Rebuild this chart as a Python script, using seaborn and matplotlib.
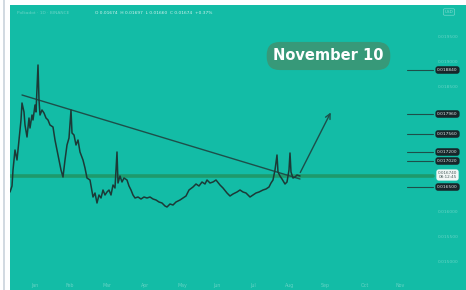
import pandas as pd
import matplotlib.pyplot as plt
import seaborn as sns

# Price history (day index, close price)
days = [10, 12, 13, 15, 17, 19, 21, 22, 24, 25,
        27, 29, 30, 32, 33, 35, 36, 38, 39, 40,
        42, 44, 46, 48, 50, 53, 55, 57, 59, 61,
        63, 65, 67, 69, 71, 72, 74, 76, 78, 80,
        83, 85, 87, 90, 93, 95, 97, 99, 101, 103,
        105, 107, 109, 111, 113, 115, 117, 118, 120, 122,
        124, 127, 129, 131, 133, 135, 138, 141, 144, 147,
        150, 153, 156, 159, 162, 165, 167, 170, 173, 176,
        180, 183, 186, 189, 193, 196, 199, 202, 205, 207,
        210, 213, 216, 220, 223, 227, 230, 233, 237, 240,
        243, 246, 250, 253, 256, 259, 263, 266, 269, 271,
        273, 275, 277, 278, 280, 282, 285, 287, 289, 290,
        291, 293, 295, 297, 300]
prices = [0.01640, 0.01652, 0.01684, 0.01724, 0.01704, 0.01744, 0.01784, 0.01818, 0.01800, 0.01774,
          0.01750, 0.01788, 0.01768, 0.01794, 0.01784, 0.01814, 0.01800, 0.01894, 0.01824, 0.01794,
          0.01804, 0.01798, 0.01788, 0.01784, 0.01774, 0.01770, 0.01744, 0.01724, 0.01704, 0.01684,
          0.01670, 0.01704, 0.01734, 0.01748, 0.01804, 0.01758, 0.01754, 0.01734, 0.01744, 0.01720,
          0.01704, 0.01688, 0.01668, 0.01664, 0.01630, 0.01638, 0.01618, 0.01634, 0.01628, 0.01644,
          0.01634, 0.01640, 0.01644, 0.01634, 0.01654, 0.01648, 0.01720, 0.01658, 0.01672, 0.01660,
          0.01668, 0.01664, 0.01652, 0.01644, 0.01634, 0.01628, 0.01630, 0.01626, 0.01630, 0.01628,
          0.01630, 0.01626, 0.01624, 0.01620, 0.01618, 0.01612, 0.01610, 0.01616, 0.01614, 0.01620,
          0.01624, 0.01628, 0.01632, 0.01644, 0.01650, 0.01656, 0.01652, 0.01660, 0.01656, 0.01664,
          0.01658, 0.01660, 0.01664, 0.01654, 0.01648, 0.01638, 0.01632, 0.01636, 0.01640, 0.01644,
          0.01640, 0.01638, 0.01630, 0.01634, 0.01638, 0.01640, 0.01644, 0.01646, 0.01650, 0.01658,
          0.01664, 0.01684, 0.01714, 0.01680, 0.01672, 0.01666, 0.01656, 0.01660, 0.01684, 0.01718,
          0.01680, 0.01668, 0.01670, 0.01674, 0.01672]

# Drawn levels
support = 0.01672
trend_days = [22, 300]
trend_prices = [0.01834, 0.01666]
arrow_from = (299, 0.01674)
arrow_to = (332, 0.01804)

# Price tags on the right axis
tag_prices = [0.01884, 0.01796, 0.01756, 0.01720, 0.01702, 0.01650]
tag_labels = ['0.018840', '0.017960', '0.017560', '0.017200', '0.017020', '0.016500']
current_price = 0.01674
current_label = ['0.016740', '08:12:45']
axis_prices = [0.0195, 0.0190, 0.0185, 0.0160, 0.0155, 0.0150]
axis_labels = ['0.019500', '0.019000', '0.018500', '0.016000', '0.015500', '0.015000']

month_days = [35, 70, 107, 145, 182, 217, 253, 290, 325, 365, 400]
month_labels = ['Jan', 'Feb', 'Mar', 'Apr', 'May', 'Jun', 'Jul', 'Aug', 'Sep', 'Oct', 'Nov']

teal = '#13bca6'
dark = '#1c3a37'

sns.set_theme(style='white')
plt.rcParams['font.family'] = ['DejaVu Sans']

fig = plt.figure(figsize=(4.66, 2.90), dpi=100, facecolor='white')
ax = fig.add_axes([10 / 466, 0, 456 / 466, 285 / 290])
ax.set_facecolor(teal)
ax.set_xlim(10, 466)
ax.set_ylim(0.01444, 0.02014)
for s in ax.spines.values():
    s.set_visible(False)
ax.set_xticks([])
ax.set_yticks([])

# thin frame line on the far left of the screenshot
fig.add_artist(plt.Line2D([3.5 / 466, 3.5 / 466], [0, 1], color='#c9d3dc', lw=1.2))

# support level
ax.axhline(support, xmin=0, xmax=(433 - 10) / 456, color='#1d9a6c', lw=2.6, zorder=2)

df = pd.DataFrame({'day': days, 'price': prices})
sns.lineplot(data=df, x='day', y='price', ax=ax, color=dark, lw=1.1, zorder=4)
ax.set_xlabel('')
ax.set_ylabel('')

# falling trend line and projected move
ax.plot(trend_days, trend_prices, color='#1d4f4a', lw=1.0, zorder=3)
ax.annotate('', xy=arrow_to, xytext=arrow_from,
            arrowprops=dict(arrowstyle='->', color='#1d4f4a', lw=1.0,
                            mutation_scale=9), zorder=5)

# right side price tags
for p, lab in zip(tag_prices, tag_labels):
    ax.plot([407, 433], [p, p], color='#1d4f4a', lw=0.8, zorder=3)
    ax.text(447.5, p, lab, ha='center', va='center', fontsize=3.2, color='#dfe8e6',
            bbox=dict(boxstyle='round,pad=0.4,rounding_size=0.6', fc='#17262a', ec='none'),
            zorder=6)
ax.text(447.5, current_price, '\n'.join(current_label), ha='center', va='center',
        fontsize=3.0, color='#455a58', linespacing=1.1,
        bbox=dict(boxstyle='round,pad=0.35,rounding_size=0.6', fc='#f2f7f6', ec='none'),
        zorder=6)
for p, lab in zip(axis_prices, axis_labels):
    ax.text(448, p, lab, ha='center', va='center', fontsize=3.2, color='white', alpha=0.35)

for d, lab in zip(month_days, month_labels):
    ax.text(d, 0.01448, lab, ha='center', va='bottom', fontsize=3.4, color='white', alpha=0.35)

# header line
ax.text(17, 0.01998, 'Polkadot \u00b7 1D \u00b7 BINANCE', ha='left', va='center',
        fontsize=3.2, color='white', alpha=0.35)
ax.text(95, 0.01998, 'O 0.01674  H 0.01697  L 0.01660  C 0.01674  +0.37%', ha='left',
        va='center', fontsize=3.2, color='white', alpha=0.8)
ax.text(449, 0.02000, 'USD', ha='center', va='center', fontsize=3.0, color='white', alpha=0.5,
        bbox=dict(boxstyle='round,pad=0.3', fc='none', ec='white', lw=0.5, alpha=0.4))

# date callout
ax.text(328.5, 0.01912, 'November 10', ha='center', va='center', fontsize=10.5,
        fontweight='bold', color='white',
        bbox=dict(boxstyle='round,pad=0.45,rounding_size=0.9', fc='#3c9674', ec='none', alpha=0.9),
        zorder=6)

fig.savefig('out.png', dpi=100, facecolor='white')
